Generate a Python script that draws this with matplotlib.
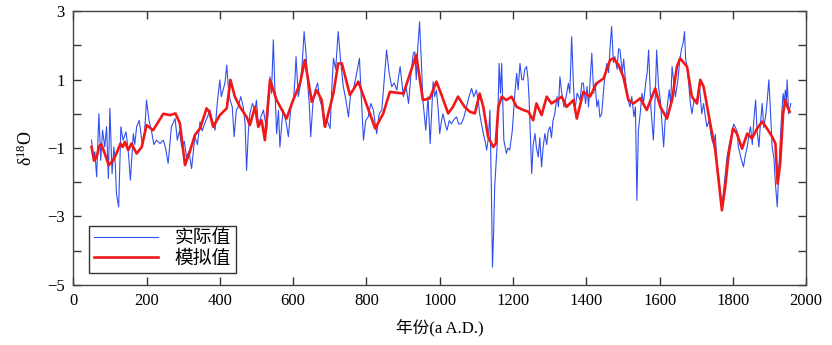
import numpy as np
import matplotlib.pyplot as plt

plt.rcParams['font.family'] = ['Liberation Serif', 'Noto Sans CJK SC', 'DejaVu Sans']
plt.rcParams['axes.unicode_minus'] = True

# 实际值 (measured δ18O)
obs_year = [50, 55, 59, 64, 70, 75, 80, 86, 91, 96, 100, 106, 111, 115, 118, 124, 130, 136,
            144, 150, 156, 164, 168, 173, 180, 189, 195, 200, 207, 214, 220, 227, 237, 246,
            252, 259, 268, 278, 284, 290, 296, 303, 309, 316, 323, 332, 339, 346, 352, 359,
            366, 373, 380, 387, 393, 400, 404, 409, 414, 419, 423, 428, 434, 439, 445, 450,
            457, 464, 469, 473, 478, 482, 489, 496, 500, 505, 512, 519, 528, 533, 537, 541,
            546, 550, 555, 560, 564, 569, 573, 580, 587, 594, 601, 605, 608, 614, 619, 625,
            630, 635, 639, 644, 648, 654, 660, 667, 673, 679, 685, 693, 701, 705, 710, 716,
            723, 730, 737, 744, 751, 757, 764, 772, 781, 786, 792, 798, 805, 812, 819, 824,
            828, 835, 842, 848, 855, 862, 869, 876, 883, 888, 892, 897, 901, 908, 915, 922,
            928, 932, 936, 940, 945, 950, 954, 962, 968, 974, 982, 986, 991, 996, 1000, 1005,
            1009, 1015, 1020, 1026, 1032, 1040, 1046, 1052, 1059, 1066, 1073, 1080, 1087,
            1093, 1100, 1105, 1109, 1114, 1119, 1124, 1128, 1133, 1137, 1141, 1144, 1147,
            1150, 1157, 1162, 1166, 1169, 1172, 1175, 1182, 1186, 1191, 1198, 1205, 1210,
            1214, 1219, 1224, 1228, 1232, 1237, 1241, 1244, 1248, 1251, 1255, 1260, 1264,
            1269, 1273, 1278, 1282, 1287, 1292, 1296, 1301, 1305, 1309, 1314, 1320, 1324,
            1328, 1333, 1339, 1345, 1351, 1355, 1360, 1365, 1369, 1375, 1383, 1388, 1392,
            1398, 1402, 1406, 1410, 1415, 1420, 1424, 1429, 1433, 1437, 1442, 1448, 1452,
            1456, 1461, 1465, 1469, 1474, 1478, 1484, 1488, 1492, 1498, 1502, 1506, 1512,
            1519, 1524, 1530, 1534, 1538, 1542, 1547, 1552, 1556, 1562, 1566, 1570, 1576,
            1583, 1588, 1592, 1597, 1602, 1606, 1611, 1615, 1620, 1626, 1630, 1634, 1639,
            1643, 1650, 1655, 1660, 1664, 1668, 1671, 1675, 1680, 1684, 1688, 1694, 1702,
            1708, 1715, 1720, 1725, 1729, 1735, 1740, 1743, 1748, 1752, 1756, 1763, 1770,
            1777, 1784, 1790, 1797, 1802, 1806, 1811, 1815, 1822, 1829, 1834, 1839, 1844,
            1848, 1853, 1857, 1862, 1866, 1871, 1875, 1880, 1884, 1889, 1893, 1898, 1902,
            1907, 1912, 1916, 1921, 1925, 1928, 1933, 1937, 1940, 1943, 1946, 1948, 1952,
            1958]
obs_val = [-0.77, -1.36, -1.11, -1.84, 0.0, -1.36, -0.48, -0.97, -0.38, -1.89, 0.16, -1.75,
           -0.97, -1.5, -2.33, -2.72, -0.38, -0.77, -0.53, -1.06, -1.94, -0.58, -0.9, -0.38,
           -0.19, -0.92, -0.5, 0.40, -0.2, -0.53, -0.9, -0.77, -0.87, -0.77, -1.0, -1.45,
           -0.38, -0.14, -0.77, -0.5, -0.97, -0.8, -1.26, -1.1, -1.60, -0.67, -0.9, -0.23,
           -0.5, -0.28, -0.1, 0.11, -0.2, -0.48, 0.3, 0.99, 0.5, 0.69, 0.9, 1.42, 0.8, 0.40,
           0.2, -0.67, 0.1, 0.20, 0.5, 0.20, -0.3, -1.65, -0.5, 0.0, 0.3, 0.11, 0.4, -0.33,
           -0.1, 0.11, -0.48, 0.3, 1.08, 0.6, 2.16, 0.8, -0.58, 0.1, -0.97, -0.3, 0.11, -0.2,
           -0.67, 0.2, 0.40, 1.0, 1.67, 0.5, 0.79, 1.5, 2.40, 1.8, 0.99, 0.3, -0.67, 0.3, 0.69,
           0.9, 0.40, 0.2, -0.38, -0.2, -0.43, 0.6, 1.62, 1.3, 2.40, 1.5, 0.79, 0.4, -0.09,
           0.6, 0.69, 1.1, 1.62, 0.5, -0.77, -0.2, -0.09, 0.3, 0.11, -0.3, -0.58, 0.0, 0.11,
           0.9, 1.86, 1.2, 0.79, 0.9, 0.69, 1.1, 1.38, 0.9, 0.50, 0.8, 0.30, 1.2, 1.77, 1.81,
           1.0, 1.9, 2.69, 1.5, 0.40, -0.48, 0.50, -0.87, 0.94, 0.5, 0.69, 0.1, -0.58, -0.2,
           0.0, -0.3, -0.48, -0.2, -0.29, -0.15, -0.09, -0.3, -0.29, -0.1, 0.20, 0.5, 0.74,
           0.5, 0.69, 0.4, 0.0, -0.3, -0.58, -0.8, -1.06, -0.7, 0.11, -2.23, -4.48, -3.5,
           -2.13, -0.87, 1.47, 0.6, 1.47, 0.3, -0.77, -1.16, -1.0, -1.06, -0.5, 0.59, 1.18,
           0.7, 1.47, 1.0, 0.99, 1.3, 1.38, 1.0, 0.40, -0.8, -1.75, -0.9, -0.58, -1.0, -1.26,
           -0.7, -1.55, -1.0, -0.58, -0.9, -0.5, -0.38, -0.7, -0.2, 0.0, 0.5, 0.2, 1.08, 0.6,
           0.20, 0.5, 0.89, 0.6, 2.25, 0.8, 0.11, 0.6, 0.40, 0.9, 0.89, 0.3, 0.8, 0.20, 0.9,
           1.77, 0.6, 0.89, 0.2, 0.40, -0.1, 0.0, 0.8, 1.2, 1.47, 1.2, 1.96, 2.55, 1.5, 1.67,
           1.3, 1.9, 1.86, 1.2, 1.6, 1.08, 0.5, 0.20, 0.5, -0.09, 0.2, -2.53, -0.5, 0.0, 0.6,
           0.30, 0.9, 1.2, 1.86, 0.2, -0.77, 0.5, 1.86, 0.8, 0.40, -0.2, -0.97, -0.2, 0.11,
           0.7, 0.3, 1.38, 0.9, 0.50, 1.0, 1.57, 1.9, 2.06, 2.40, 1.6, 1.38, 0.8, 0.3, 0.0,
           0.4, 0.40, 0.9, 0.0, 0.3, -0.1, -0.38, -0.2, -0.6, -0.77, -0.9, -0.6, -1.36, -2.0,
           -2.72, -2.0, -1.26, -0.9, -0.58, -0.3, -0.38, -0.5, -0.97, -1.3, -1.55, -1.2, -0.97,
           -0.6, -0.38, -0.9, -0.2, 0.40, -0.5, -0.97, -0.3, 0.30, -0.4, -0.09, 0.3, 0.99, 0.2,
           -0.97, -1.3, -2.04, -2.72, -1.7, -1.06, 0.0, 0.59, 0.3, 0.69, 0.4, 0.99, 0.0, 0.3]

# 模拟值 (modelled δ18O)
sim_year = [50, 57, 64, 71, 77, 86, 97, 109, 118, 129, 135, 141, 150, 159, 173, 187, 200,
            218, 246, 264, 279, 291, 305, 318, 332, 346, 364, 371, 382, 400, 419, 429, 441,
            455, 473, 482, 496, 505, 514, 523, 537, 555, 582, 600, 619, 632, 651, 664, 678,
            687, 710, 723, 733, 755, 778, 796, 824, 846, 864, 901, 936, 954, 973, 991, 1005,
            1023, 1036, 1050, 1068, 1082, 1096, 1109, 1119, 1132, 1146, 1153, 1160, 1169,
            1182, 1196, 1210, 1228, 1242, 1255, 1264, 1278, 1292, 1305, 1319, 1333, 1346,
            1365, 1374, 1392, 1410, 1428, 1447, 1465, 1474, 1488, 1501, 1515, 1529, 1547,
            1565, 1579, 1588, 1602, 1620, 1634, 1647, 1656, 1675, 1688, 1702, 1711, 1720,
            1738, 1752, 1770, 1779, 1788, 1800, 1811, 1825, 1839, 1852, 1866, 1880, 1893,
            1907, 1916, 1922, 1929, 1937, 1943, 1949, 1955]
sim_val = [-0.97, -1.37, -1.26, -0.94, -0.89, -1.16, -1.50, -1.36, -1.16, -0.87, -0.97,
           -0.82, -1.06, -0.87, -1.16, -0.97, -0.33, -0.48, 0.0, -0.04, 0.01, -0.28, -1.50,
           -1.11, -0.62, -0.43, 0.16, 0.06, -0.38, -0.04, 0.16, 0.99, 0.50, 0.20, -0.09,
           -0.33, 0.20, -0.38, -0.19, -0.77, 0.99, 0.40, -0.14, 0.40, 0.89, 1.57, 0.35, 0.69,
           0.40, -0.38, 0.60, 1.47, 1.47, 0.55, 0.94, 0.40, -0.43, 0.01, 0.64, 0.59, 1.72,
           0.40, 0.45, 0.94, 0.55, 0.01, 0.20, 0.50, 0.20, 0.06, 0.01, 0.59, 0.20, -0.67,
           -0.97, -0.87, 0.20, 0.50, 0.40, 0.50, 0.20, 0.11, 0.06, -0.19, 0.30, -0.04, 0.50,
           0.30, 0.40, 0.50, 0.20, 0.40, -0.14, 0.64, 0.50, 0.89, 1.03, 1.57, 1.62, 1.42,
           1.08, 0.40, 0.30, 0.45, 0.11, 0.50, 0.74, 0.20, -0.14, 0.40, 1.37, 1.62, 1.37,
           0.50, 0.30, 0.99, 0.79, -0.28, -1.07, -2.82, -2.14, -1.22, -0.43, -0.58, -1.02,
           -0.58, -0.72, -0.43, -0.23, -0.43, -0.67, -0.87, -2.04, -1.45, 0.01, 0.40, 0.20,
           0.06]

fig, ax = plt.subplots(figsize=(8.32, 3.45), dpi=100)
fig.subplots_adjust(left=0.088, right=0.969, top=0.968, bottom=0.174)

ax.plot(obs_year, obs_val, color='#3050ee', lw=0.8, label='实际值')
ax.plot(sim_year, sim_val, color='#f01818', lw=1.9, label='模拟值')

ax.set_xlim(0, 2000)
ax.set_ylim(-5, 3)
ax.set_xticks(np.arange(0, 2001, 200))
ax.set_yticks(np.arange(-5, 4, 1))
ax.set_yticklabels([str(v).replace('-', '\u2212') if v % 2 else '' for v in range(-5, 4)])
ax.tick_params(direction='in', length=6, width=1, top=True, right=True,
               labelsize=12, colors='#333333', labelcolor='black', pad=6)
for s in ax.spines.values():
    s.set_color('#444444')
    s.set_linewidth(1.0)

ax.set_xlabel('年份(a A.D.)', fontsize=12, labelpad=7)
ax.set_ylabel(r'$\mathregular{\delta^{18}O}$', fontsize=13, labelpad=8)

leg = ax.legend(loc='lower left', bbox_to_anchor=(0.022, 0.045), fontsize=13.5,
                fancybox=False, edgecolor='#333333', framealpha=1,
                handlelength=3.4, handletextpad=0.9, borderpad=0.25, labelspacing=0.15,
                borderaxespad=0)
leg.get_frame().set_linewidth(1.0)

fig.savefig('out.png', dpi=100)
